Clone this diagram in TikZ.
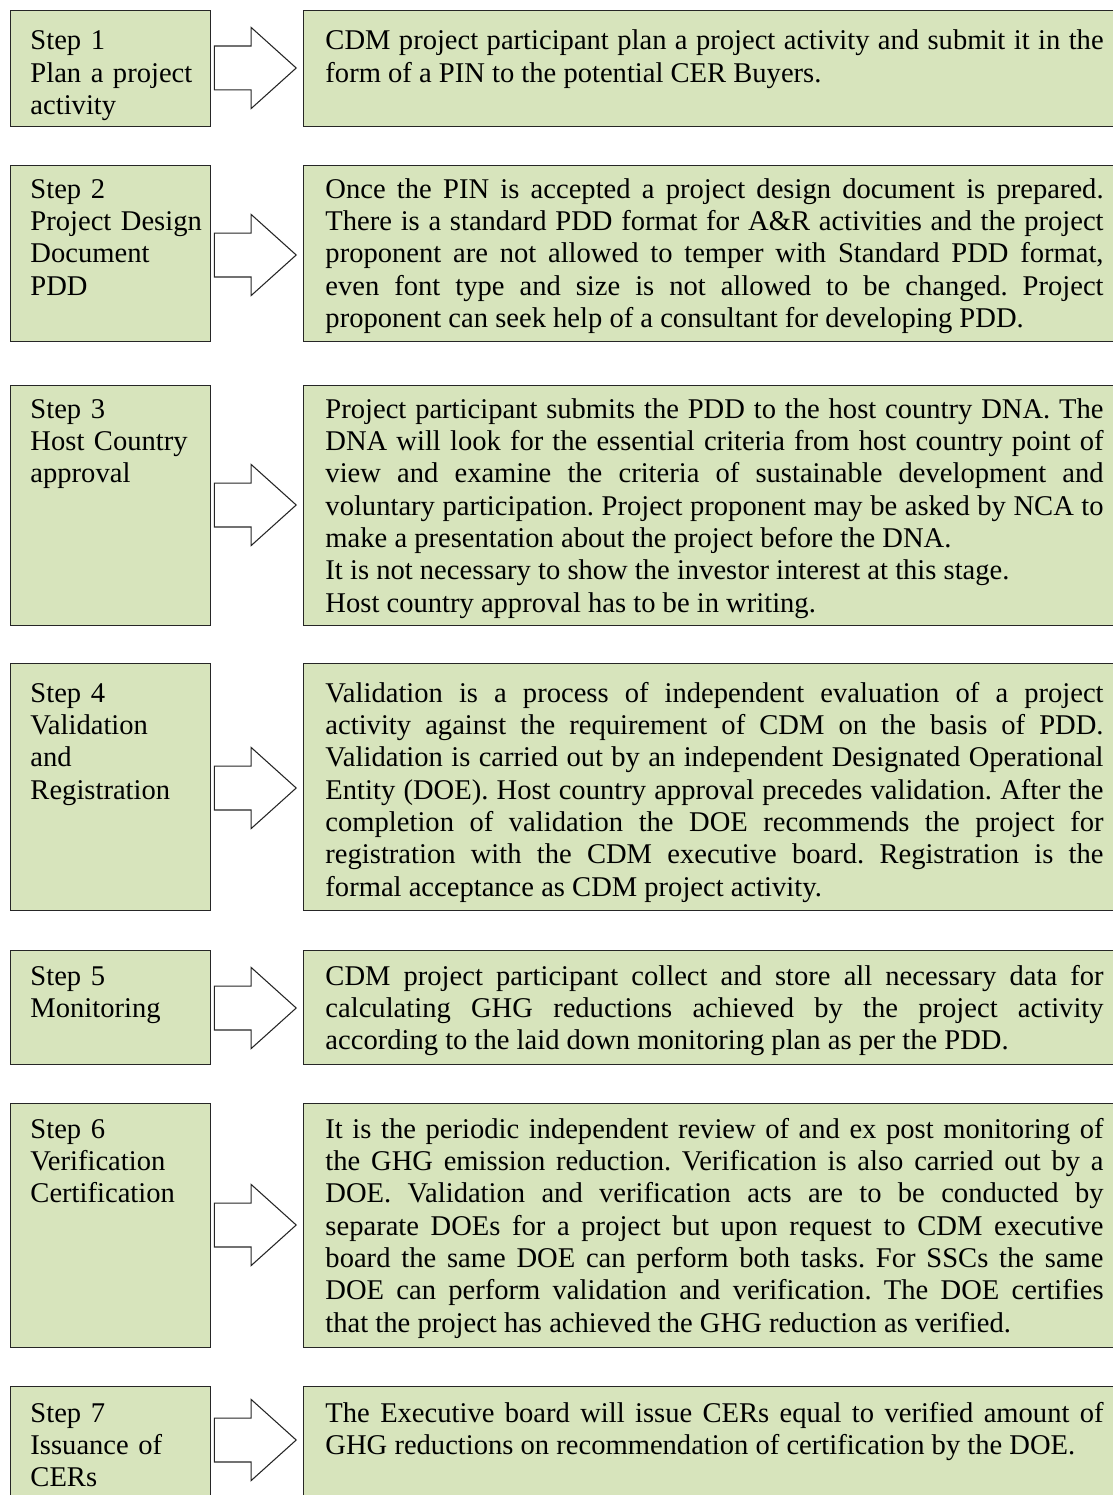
\documentclass[tikz,border=0pt]{standalone}
\usepackage{fontspec}
\setmainfont{Liberation Serif}
\usetikzlibrary{shapes.arrows}
\definecolor{boxgreen}{RGB}{215,228,188}

\begin{document}
\begin{tikzpicture}[x=0.42pt, y=-0.42pt,
  box/.style={draw=black!85, line width=0.6pt, fill=boxgreen, anchor=north west, inner sep=0pt},
  blockarrow/.style={single arrow, draw=black!85, fill=white, line width=0.45pt, inner sep=9pt,
    minimum height=34.4pt, single arrow head extend=7.8pt, single arrow tip angle=84, anchor=tip},
  steptext/.style={anchor=base west, inner sep=0pt, text width=80pt, align=left,
    font=\fontsize{12}{13.6}\selectfont},
  desctext/.style={anchor=base west, inner sep=0pt, text width=326.8pt, align=justify,
    font=\fontsize{12}{13.6}\selectfont\frenchspacing}]
  \useasboundingbox (0,0) rectangle (1113,1495);
  \clip (0,0) rectangle (1113,1495);
  \foreach \i/\ya/\yb/\yc in {1/10/126/68, 2/165/341/255, 3/385/625/505, 4/663/910/788,
                              5/950/1064/1008, 6/1103/1347/1225, 7/1386/1505/1440} {
    \node[box, minimum width=84pt, minimum height={(\yb-\ya)*0.42pt}] (step\i) at (10,\ya) {};
    \node[box, minimum width=345pt, minimum height={(\yb-\ya)*0.42pt}] (info\i) at (303,\ya) {};
    \node[blockarrow] (arrow\i) at (297,\yc) {};
  }
  \node[steptext] (st1) at (30,50) {Step 1\\Plan a project\\activity};
  \node[steptext] (st2) at (30,198) {Step 2\\Project Design\\Document\\PDD};
  \node[steptext] (st3) at (30,418) {Step 3\\Host Country\\approval};
  \node[steptext] (st4) at (30,702) {Step 4\\Validation\\and\\Registration};
  \node[steptext] (st5) at (30,985) {Step 5\\Monitoring};
  \node[steptext] (st6) at (30,1138) {Step 6\\Verification\\Certification};
  \node[steptext] (st7) at (30,1422) {Step 7\\Issuance of\\CERs};

  \node[desctext] (dt1) at (325,50) {CDM project participant plan a project activity and submit it in the\linebreak
    form of a PIN to the potential CER Buyers.};
  \node[desctext] (dt2) at (325,198) {Once the PIN is accepted a project design document is prepared.\linebreak
    There is a standard PDD format for A\&R activities and the project\linebreak
    proponent are not allowed to temper with Standard PDD format,\linebreak
    even font type and size is not allowed to be changed. Project\linebreak
    proponent can seek help of a consultant for developing PDD.};
  \node[desctext] (dt3) at (325,418) {Project participant submits the PDD to the host country DNA. The\linebreak
    DNA will look for the essential criteria from host country point of\linebreak
    view and examine the criteria of sustainable development and\linebreak
    voluntary participation. Project proponent may be asked by NCA to\linebreak
    make a presentation about the project before the DNA.\\
    It is not necessary to show the investor interest at this stage.\\
    Host country approval has to be in writing.};
  \node[desctext] (dt4) at (325,702) {Validation is a process of independent evaluation of a project\linebreak
    activity against the requirement of CDM on the basis of PDD.\linebreak
    Validation is carried out by an independent Designated Operational\linebreak
    Entity (DOE). Host country approval precedes validation. After the\linebreak
    completion of validation the DOE recommends the project for\linebreak
    registration with the CDM executive board. Registration is the\linebreak
    formal acceptance as CDM project activity.};
  \node[desctext] (dt5) at (325,985) {CDM project participant collect and store all necessary data for\linebreak
    calculating GHG reductions achieved by the project activity\linebreak
    according to the laid down monitoring plan as per the PDD.};
  \node[desctext] (dt6) at (325,1138) {It is the periodic independent review of and ex post monitoring of\linebreak
    the GHG emission reduction. Verification is also carried out by a\linebreak
    DOE. Validation and verification acts are to be conducted by\linebreak
    separate DOEs for a project but upon request to CDM executive\linebreak
    board the same DOE can perform both tasks. For SSCs the same\linebreak
    DOE can perform validation and verification. The DOE certifies\linebreak
    that the project has achieved the GHG reduction as verified.};
  \node[desctext] (dt7) at (325,1422) {The Executive board will issue CERs equal to verified amount of\linebreak
    GHG reductions on recommendation of certification by the DOE.};
\end{tikzpicture}
\end{document}
